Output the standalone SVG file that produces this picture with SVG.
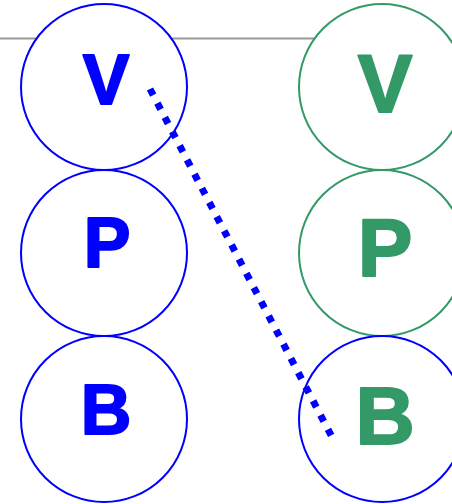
<svg xmlns="http://www.w3.org/2000/svg" width="452" height="504" viewBox="0 0 452 504">
  <style>
    .ring { fill: #ffffff; stroke-width: 2; }
    .blue { stroke: #0000ff; }
    .green { stroke: #339966; }
    .lbl { font-family: "Liberation Sans", "DejaVu Sans", sans-serif; font-weight: bold; text-anchor: middle; stroke-width: 2; stroke-linejoin: round; }
    .lbl-blue { fill: #0000ff; stroke: #0000ff; font-size: 70px; }
    .lbl-green { fill: #339966; stroke: #339966; font-size: 82px; }
  </style>
  <rect width="452" height="504" fill="#ffffff"/>
  <!-- header rule behind the top row -->
  <line x1="0" y1="38.5" x2="330" y2="38.5" stroke="#999999" stroke-width="2"/>

  <g id="left-V">
    <circle class="ring blue" cx="104" cy="87" r="83"/>
    <text class="lbl lbl-blue" x="106" y="104">V</text>
  </g>
  <g id="left-P">
    <circle class="ring blue" cx="104" cy="253" r="83"/>
    <text class="lbl lbl-blue" x="107" y="267">P</text>
  </g>
  <g id="left-B">
    <circle class="ring blue" cx="104" cy="419" r="83"/>
    <text class="lbl lbl-blue" x="106" y="434">B</text>
  </g>

  <g id="right-V">
    <circle class="ring green" cx="382" cy="87" r="83"/>
    <text class="lbl lbl-green" x="385" y="112">V</text>
  </g>
  <g id="right-P">
    <circle class="ring green" cx="382" cy="253" r="83"/>
    <text class="lbl lbl-green" x="385" y="276">P</text>
  </g>
  <g id="right-B">
    <circle class="ring blue" cx="382" cy="419" r="83"/>
    <text class="lbl lbl-green" x="385" y="444">B</text>
  </g>

  <g id="connectors">
    <line x1="150" y1="89" x2="333" y2="439" stroke="#0000ff" stroke-width="7" stroke-dasharray="7 9"/>
  </g>
</svg>
